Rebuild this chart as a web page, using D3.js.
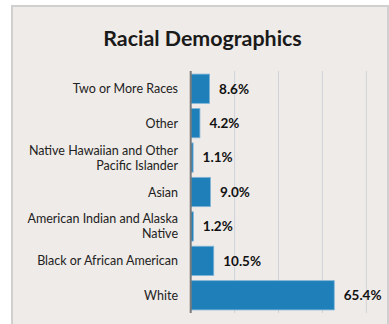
<!DOCTYPE html>
<html><head><meta charset="utf-8">
<script src="https://cdn.jsdelivr.net/npm/d3@7"></script>
<style>
html,body{margin:0;padding:0;background:#fff;}
svg{display:block;font-family:Lato,"Open Sans",sans-serif;}
</style></head>
<body>
<svg id="chart" width="389" height="324"></svg>
<script>
const categories = ["Two or More Races","Other","Native Hawaiian and Other Pacific Islander","Asian","American Indian and Alaska Native","Black or African American","White"];
const values = [8.6, 4.2, 1.1, 9.0, 1.2, 10.5, 65.4];
const tickValues = [0, 20, 40, 60, 80];
const title = "Racial Demographics";

const svg = d3.select("#chart");
// card
svg.append("rect").attr("x",12).attr("y",6).attr("width",376).attr("height",330)
  .attr("fill","#efebe8").attr("stroke","#cfcfcf").attr("stroke-width",2);

svg.append("text").attr("x",202.5).attr("y",45.5).attr("text-anchor","middle")
  .attr("font-size",21.4).attr("font-weight",700).attr("fill","#1a1a1a").text(title);

const x = d3.scaleLinear().domain([0,80]).range([190.7, 366.3]);
const y = d3.scaleBand().domain(categories).range([71.5, 312.5]).paddingInner(0.15).paddingOuter(0.075);

// grid
svg.append("g").selectAll("line").data(tickValues.filter(d=>d>0)).join("line")
  .attr("x1",d=>x(d)).attr("x2",d=>x(d)).attr("y1",71).attr("y2",313)
  .attr("stroke","#cfd3d8").attr("stroke-width",1);

// bars
svg.append("g").selectAll("rect").data(values).join("rect")
  .attr("x",x(0)).attr("y",(d,i)=>y(categories[i]))
  .attr("width",d=>x(d)-x(0)).attr("height",y.bandwidth())
  .attr("fill","#1f80b9").attr("stroke","#7fb3d8").attr("stroke-width",0.8);

// axis line
svg.append("line").attr("x1",x(0)).attr("x2",x(0)).attr("y1",71).attr("y2",313)
  .attr("stroke","#7a7a7a").attr("stroke-width",2);

// value labels
svg.append("g").selectAll("text").data(values).join("text")
  .attr("x",d=>x(d)+9.5).attr("y",(d,i)=>y(categories[i])+y.bandwidth()/2)
  .attr("dy","0.36em").attr("font-size",13.5).attr("font-weight",700).attr("fill","#111")
  .text(d=>d.toFixed(1)+"%");

// category labels with wrapping
const maxW = 156, lineH = 15;
const lab = svg.append("g").selectAll("text").data(categories).join("text")
  .attr("text-anchor","end").attr("font-size",12.5).attr("fill","#222");
lab.each(function(c){
  const t = d3.select(this);
  const words = c.split(" ");
  let lines = [], cur = [];
  const tmp = t.append("tspan");
  words.forEach(w=>{
    cur.push(w);
    tmp.text(cur.join(" "));
    if (tmp.node().getComputedTextLength() > maxW && cur.length>1){
      cur.pop(); lines.push(cur.join(" ")); cur=[w];
    }
  });
  lines.push(cur.join(" "));
  tmp.remove();
  const cy = y(c)+y.bandwidth()/2;
  const startY = cy - (lines.length-1)*lineH/2 + 4.5;
  lines.forEach((l,k)=>{
    t.append("tspan").attr("x",178).attr("y",startY+k*lineH).text(l);
  });
});
</script>
</body></html>
